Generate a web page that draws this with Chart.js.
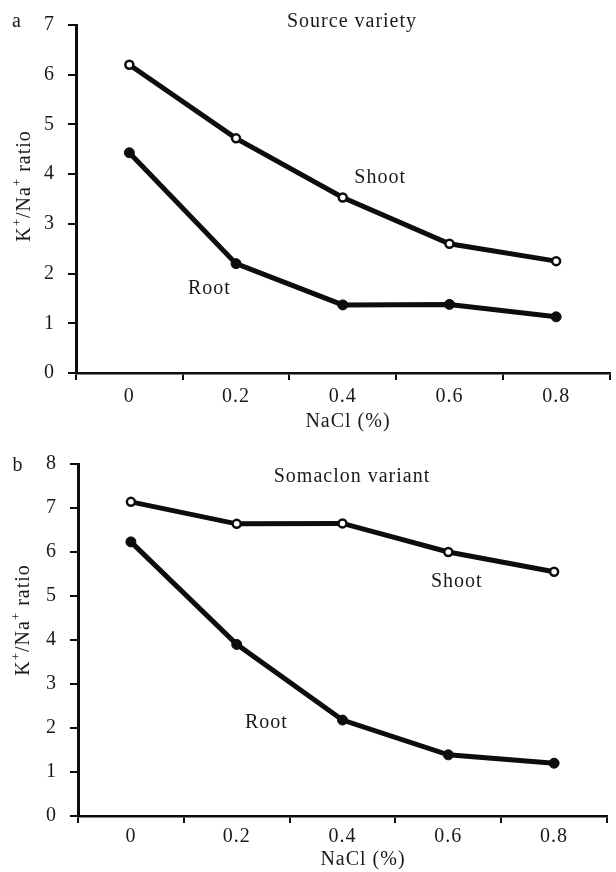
<!DOCTYPE html>
<html><head><meta charset="utf-8">
<script src="https://cdn.jsdelivr.net/npm/chart.js@4.4.1/dist/chart.umd.min.js"></script>
<style>
html,body{margin:0;padding:0;background:#fff;}
#wrap{position:relative;width:616px;height:872px;overflow:hidden;}
canvas{position:absolute;left:0;}
</style>
</head><body>
<div id="wrap">
<canvas id="ca" width="616" height="436" style="top:0px"></canvas>
<canvas id="cb" width="616" height="436" style="top:436px"></canvas>
</div>
<script>
// ---- data ----
const categories = ['0', '0.2', '0.4', '0.6', '0.8'];
const shootA = [6.2, 4.72, 3.53, 2.6, 2.25];
const rootA  = [4.43, 2.2, 1.37, 1.38, 1.13];
const shootB = [7.14, 6.64, 6.65, 6.0, 5.55];
const rootB  = [6.23, 3.9, 2.18, 1.39, 1.2];
const yMaxA = 7;
const yMaxB = 8;
const panelLetters = ['a', 'b'];
const panelTitles = ['Source variety', 'Somaclon variant'];
const seriesNames = ['Shoot', 'Root'];
const xTitle = 'NaCl (%)';
const yTitleParts = [['K', false], ['+', true], ['/Na', false], ['+', true], [' ratio', false]];

const FONT = '"Liberation Serif", "Times New Roman", serif';
const FS = 20;
const INK = '#0d0d0d';
const TXT = '#1a1a1a';
const LS = '1px';

function drawYTitle(ctx, cx, cy) {
  ctx.save();
  ctx.translate(cx, cy);
  ctx.rotate(-Math.PI / 2);
  ctx.fillStyle = TXT;
  ctx.textBaseline = 'middle';
  ctx.textAlign = 'left';
  let total = 0;
  const widths = yTitleParts.map(([t, sup]) => {
    ctx.font = (sup ? '13px ' : FS + 'px ') + FONT;
    const w = ctx.measureText(t).width;
    total += w;
    return w;
  });
  let x = -total / 2;
  yTitleParts.forEach(([t, sup], i) => {
    ctx.font = (sup ? '13px ' : FS + 'px ') + FONT;
    ctx.fillText(t, x, sup ? -7 : 0);
    x += widths[i];
  });
  ctx.restore();
}

function makeChart(id, idx, shoot, root, yMax, L) {
  const textPlugin = {
    id: 'texts' + idx,
    beforeDraw(chart) {
      chart.ctx.letterSpacing = LS;
    },
    afterDraw(chart) {
      const ctx = chart.ctx;
      const xs = chart.scales.x, ys = chart.scales.y;
      ctx.save();
      ctx.letterSpacing = LS;
      ctx.fillStyle = TXT;
      ctx.font = FS + 'px ' + FONT;
      ctx.textBaseline = 'middle';
      ctx.textAlign = 'center';
      ctx.fillText(panelLetters[idx], L.letterX, L.letterY);
      ctx.fillText(panelTitles[idx], L.titleX, L.titleY);
      ctx.fillText(seriesNames[0], xs.getPixelForValue(L.shootAt[0]), ys.getPixelForValue(L.shootAt[1]));
      ctx.fillText(seriesNames[1], xs.getPixelForValue(L.rootAt[0]), ys.getPixelForValue(L.rootAt[1]));
      ctx.fillText(xTitle, L.xTitleX, L.xTitleY);
      ctx.restore();
      ctx.save();
      ctx.letterSpacing = LS;
      drawYTitle(ctx, L.yTitleX, L.yTitleY);
      ctx.restore();
    }
  };
  return new Chart(document.getElementById(id), {
    type: 'line',
    data: {
      labels: categories,
      datasets: [
        {
          label: seriesNames[0], data: shoot,
          borderColor: INK, borderWidth: 5, tension: 0,
          pointRadius: 4, pointBorderWidth: 2.5,
          pointBackgroundColor: '#fff', pointBorderColor: INK
        },
        {
          label: seriesNames[1], data: root,
          borderColor: INK, borderWidth: 5, tension: 0,
          pointRadius: 5, pointBorderWidth: 1,
          pointBackgroundColor: INK, pointBorderColor: INK
        }
      ]
    },
    options: {
      responsive: false,
      animation: false,
      devicePixelRatio: 1,
      layout: { padding: { left: 0, right: L.padRight, top: L.padTop, bottom: 0 } },
      plugins: { legend: { display: false }, tooltip: { enabled: false }, title: { display: false } },
      scales: {
        x: {
          type: 'category',
          offset: true,
          grid: { offset: true, drawOnChartArea: false, drawTicks: true, tickLength: 7, color: INK, lineWidth: 2 },
          border: { display: true, color: INK, width: 2.5 },
          ticks: { color: TXT, font: { family: FONT, size: FS }, padding: L.xPad, maxRotation: 0, autoSkip: false },
          afterFit(s) { s.height = L.xAxisH; }
        },
        y: {
          min: 0, max: yMax,
          grid: { drawOnChartArea: false, drawTicks: true, tickLength: 8, color: INK, lineWidth: 2 },
          border: { display: true, color: INK, width: 3 },
          ticks: { stepSize: 1, color: TXT, font: { family: FONT, size: FS }, padding: 13 },
          afterFit(s) { s.width = L.yAxisW; }
        }
      }
    },
    plugins: [textPlugin]
  });
}

makeChart('ca', 0, shootA, rootA, yMaxA, {
  padRight: 3, padTop: 16, xAxisH: 436 - 373, yAxisW: 76, xPad: 5,
  letterX: 17, letterY: 22, titleX: 352, titleY: 22,
  shootAt: [2.35, 3.93], rootAt: [0.75, 1.69],
  xTitleX: 348, xTitleY: 422, yTitleX: 25, yTitleY: 186
});
makeChart('cb', 1, shootB, rootB, yMaxB, {
  padRight: 9, padTop: 28, xAxisH: 436 - 380, yAxisW: 78, xPad: 2,
  letterX: 18, letterY: 30, titleX: 352, titleY: 41,
  shootAt: [3.08, 5.32], rootAt: [1.28, 2.12],
  xTitleX: 363, xTitleY: 424, yTitleX: 24, yTitleY: 184
});
</script>
</body></html>
